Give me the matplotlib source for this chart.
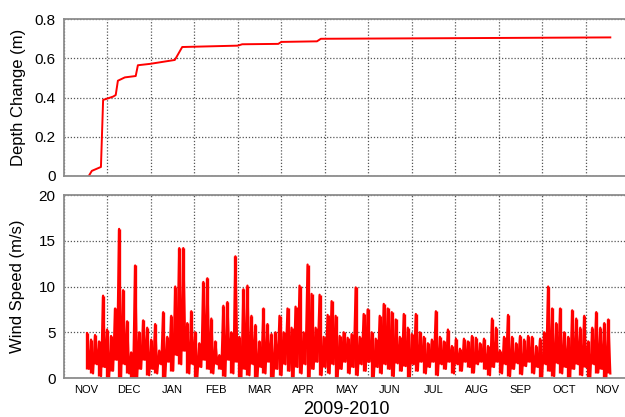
import numpy as np
import matplotlib
matplotlib.use('Agg')
import matplotlib.pyplot as plt

plt.rcParams['font.family'] = ['Liberation Sans', 'DejaVu Sans']

# x axis in months since 1 Nov 2009 (equal-width months)
months = ['NOV', 'DEC', 'JAN', 'FEB', 'MAR', 'APR', 'MAY', 'JUN',
          'JUL', 'AUG', 'SEP', 'OCT', 'NOV']

# depth change curve (month, metres)
depth_t = [0.57, 0.64, 0.85, 0.90, 0.97, 1.13, 1.19, 1.24, 1.40, 1.65, 1.70,
           1.98, 2.55, 2.72, 4.00, 4.10, 4.93, 5.00, 5.82, 5.91, 8.88, 12.57]
depth_v = [0.0, 0.026, 0.046, 0.388, 0.393, 0.405, 0.413, 0.486, 0.503, 0.51,
           0.565, 0.572, 0.592, 0.658, 0.665, 0.672, 0.674, 0.684, 0.687,
           0.70, 0.703, 0.707]

# wind speed, read as upper / lower envelope samples (m/s)
wind_start, wind_end = 0.53, 12.57
wind_hi = [4.9, 4.2, 4.7, 4.0, 9.0, 5.3, 4.6, 7.6, 16.3, 9.6,
           6.2, 2.8, 12.3, 5.0, 6.3, 5.5, 4.2, 5.9, 3.0, 7.2,
           4.5, 6.8, 10.0, 14.2, 14.2, 6.0, 7.3, 5.0, 3.8, 10.5,
           10.9, 6.5, 4.0, 2.5, 7.9, 8.3, 5.0, 13.3, 4.5, 9.7,
           10.1, 6.8, 5.8, 4.0, 7.6, 5.9, 4.8, 5.0, 6.8, 5.0,
           7.6, 5.5, 7.8, 10.1, 5.0, 12.4, 9.2, 5.5, 9.1, 4.5,
           6.9, 8.4, 6.8, 4.6, 5.0, 4.4, 4.8, 9.9, 4.5, 7.0,
           7.5, 5.0, 4.3, 6.8, 8.1, 7.6, 7.2, 6.4, 4.5, 7.0,
           5.5, 4.8, 7.0, 5.0, 4.5, 3.8, 4.2, 7.3, 4.5, 4.0,
           5.3, 3.5, 4.3, 3.2, 4.3, 4.0, 4.6, 4.4, 3.8, 4.3,
           3.5, 6.5, 5.5, 3.0, 4.5, 6.9, 4.5, 3.8, 4.6, 4.2,
           4.6, 4.5, 3.5, 4.3, 5.0, 10.0, 7.6, 6.0, 7.6, 5.0,
           4.5, 7.4, 6.5, 5.5, 6.8, 4.0, 5.5, 7.2, 5.5, 6.0,
           6.4]
wind_lo = [1.0, 0.5, 1.5, 0.2, 1.2, 0.0, 0.8, 2.0, 0.0, 1.5,
           0.5, 0.0, 0.0, 1.0, 2.0, 0.3, 1.0, 0.5, 1.5, 0.0,
           1.8, 0.8, 2.5, 1.5, 3.0, 0.5, 1.5, 0.0, 1.2, 2.0,
           1.0, 0.5, 1.5, 1.0, 0.2, 2.0, 0.5, 1.8, 0.0, 1.0,
           0.3, 1.5, 0.0, 1.2, 0.5, 1.8, 0.0, 1.0, 0.3, 1.5,
           0.8, 0.0, 1.2, 0.5, 1.5, 0.0, 1.0, 1.8, 0.3, 1.2,
           0.5, 1.5, 0.0, 1.0, 1.8, 0.5, 1.2, 0.3, 1.5, 0.8,
           1.8, 0.0, 1.2, 0.5, 1.5, 1.0, 0.2, 1.6, 0.8, 1.3,
           0.0, 1.5, 0.8, 1.8, 0.5, 1.2, 1.8, 0.3, 1.5, 1.0,
           1.8, 0.5, 1.5, 0.8, 1.8, 1.2, 0.6, 1.5, 1.8, 1.0,
           0.3, 1.2, 1.8, 0.5, 1.5, 0.2, 1.0, 1.6, 0.4, 1.3,
           1.8, 0.5, 1.2, 0.0, 1.5, 0.8, 0.2, 1.6, 0.5, 1.2,
           0.0, 1.0, 1.5, 0.3, 1.2, 0.0, 1.5, 0.6, 1.0, 0.0,
           0.5]

wind = np.column_stack([wind_hi, wind_lo]).ravel()
wind_t = np.linspace(wind_start, wind_end, len(wind))

red = '#ff0000'
frame = '#8c8c8c'

fig = plt.figure(figsize=(6.25, 4.17), dpi=100)
ax1 = fig.add_axes([0.1024, 0.578, 0.904, 0.376])
ax2 = fig.add_axes([0.1024, 0.0935, 0.904, 0.4388])

ax1.plot(depth_t, depth_v, color=red, lw=1.4)

# dense record: vertical range per sample plus the trace through it
ax2.vlines(wind_t[0::2], wind_lo, wind_hi, color=red, lw=2.4)
ax2.plot(wind_t, wind, color=red, lw=1.6)

ax1.set_ylim(0, 0.8)
ax1.set_yticks([0, 0.2, 0.4, 0.6, 0.8])
ax1.set_yticklabels(['0', '0.2', '0.4', '0.6', '0.8'])
ax1.set_ylabel('Depth Change (m)', fontsize=12, labelpad=6)

ax2.set_ylim(0, 20)
ax2.set_yticks([0, 5, 10, 15, 20])
ax2.set_ylabel('Wind Speed (m/s)', fontsize=12, labelpad=10)

for ax in (ax1, ax2):
    ax.set_xlim(0, 13)
    ax.set_xticks(np.arange(0, 14))
    ax.set_xticklabels([])
    ax.grid(True, color='#555555', ls=(0, (1, 1.5)), lw=0.9)
    ax.tick_params(axis='both', length=0, labelsize=11, pad=6)
    for s in ax.spines.values():
        s.set_color(frame)
        s.set_linewidth(1.3)

ax2.set_xticks(np.arange(len(months)) + 0.5, minor=True)
ax2.set_xticklabels(months, minor=True, fontsize=8)
ax2.tick_params(axis='x', which='minor', length=0, pad=5)
ax2.set_xlabel('2009-2010', fontsize=13, labelpad=4)

fig.savefig('out.png', dpi=100)
